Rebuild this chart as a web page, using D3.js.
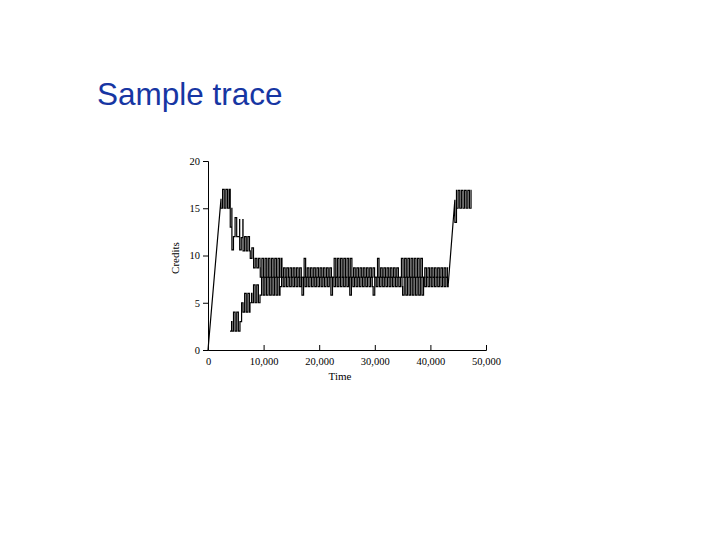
<!DOCTYPE html>
<html>
<head>
<meta charset="utf-8">
<script src="https://cdn.jsdelivr.net/npm/d3@7"></script>
<style>
  body { margin: 0; background: #fff; }
  svg { display: block; }
</style>
</head>
<body>
<div id="chart"></div>
<script>
// Axis ticks;
var xTicks = [0, 10000, 20000, 30000, 40000, 50000]
var yTicks = [0, 5, 10, 15, 20]

// Time between two flips of the credit counter, in time units;
var toggleStep = 290

// Straight pieces of the traces: [time, credits];
var rampA = [[0, 0], [2340, 16]]
var rampB = [[43200, 6.9], [44400, 15.9]]

// Oscillating pieces: [start time, end time, low credits, high credits];
var runsA = [
    [2340, 4000, 15, 17],
    [4000, 4300, 13, 15],
    [4300, 4580, 10.6, 15],
    [4580, 5400, 12, 14],
    [5400, 5700, 12, 13.8],
    [5700, 5980, 10.6, 13.8],
    [5980, 6300, 11.9, 13.8],
    [6300, 7600, 10.5, 12],
    [7600, 8200, 9.7, 10.8],
    [8200, 9400, 8.7, 9.7],
    [9400, 13300, 7.7, 9.7],
    [13300, 17000, 7.7, 8.7],
    [17000, 17560, 7.7, 9.7],
    [17560, 22400, 7.7, 8.7],
    [22400, 25900, 7.7, 9.7],
    [25900, 30200, 7.7, 8.7],
    [30200, 30760, 7.7, 9.7],
    [30760, 34500, 7.7, 8.7],
    [34500, 38700, 7.7, 9.7],
    [38700, 43200, 7.7, 8.7]
]

var runsB1 = [
    [3960, 4300, 2, 3],
    [4300, 5750, 2, 4],
    [5750, 6300, 3, 5],
    [6300, 7550, 4, 6],
    [7550, 7900, 5, 6],
    [7900, 9350, 5, 6.9],
    [9350, 12950, 5.8, 7.7],
    [12950, 16900, 6.7, 7.7],
    [16900, 17460, 5.8, 7.7],
    [17460, 22100, 6.7, 7.7],
    [22100, 22660, 5.8, 7.7],
    [22660, 25500, 6.7, 7.7],
    [25500, 26060, 5.8, 7.7],
    [26060, 29700, 6.7, 7.7],
    [29700, 30260, 5.8, 7.7],
    [30260, 35000, 6.7, 7.7],
    [35000, 39000, 5.8, 7.7],
    [39000, 43200, 6.7, 7.7]
]

var runsB2 = [
    [44400, 44700, 13.5, 16.9],
    [44700, 47400, 15, 16.9]
]

var traceA = [{ ramp: rampA }, { runs: runsA }]
var traceB = [{ runs: runsB1 }, { ramp: rampB }, { runs: runsB2 }]

/////////////////////////////

var width = 720
var height = 540

var svg = d3.select("#chart").append("svg")
    .attr("width", width)
    .attr("height", height)

svg.append("text")
    .attr("x", 97)
    .attr("y", 105)
    .attr("font-family", "Liberation Sans, Arial, sans-serif")
    .attr("font-size", 31.5)
    .attr("fill", "#1736a3")
    .text("Sample trace")

var x = d3.scaleLinear().domain([0, 50000]).range([208, 486])
var y = d3.scaleLinear().domain([0, 20]).range([350, 161])

// Turn the pieces of a trace into a list of points (square wave for the runs);
function tracePoints(parts) {
    var pts = []
    parts.forEach(p => {
        if (p.ramp) p.ramp.forEach(d => pts.push(d))
        else p.runs.forEach(([t0, t1, lo, hi]) => {
            var i = 0
            for (var t = t0; t < t1; t += toggleStep, i++) {
                var v = i % 2 ? hi : lo
                pts.push([t, v], [Math.min(t + toggleStep, t1), v])
            }
        })
    })
    return pts
}

var line = d3.line().x(d => x(d[0])).y(d => y(d[1]))

var plot = svg.append("g")
plot.selectAll("path.trace")
    .data([traceA, traceB])
    .join("path")
    .attr("class", "trace")
    .attr("fill", "none")
    .attr("stroke", "#000")
    .attr("stroke-width", 1.2)
    .attr("d", d => line(tracePoints(d)))

var serif = "Liberation Serif, Times New Roman, serif"

var xAxis = svg.append("g")
    .attr("transform", `translate(0,${y(0)})`)
    .call(d3.axisBottom(x).tickValues(xTicks).tickFormat(d3.format(",")).tickSize(-5).tickPadding(8))
var yAxis = svg.append("g")
    .attr("transform", `translate(${x(0)},0)`)
    .call(d3.axisLeft(y).tickValues(yTicks).tickSize(5).tickPadding(3))

;[xAxis, yAxis].forEach(a => {
    a.attr("font-family", serif).attr("font-size", 10.5)
    a.selectAll("path, line").attr("stroke", "#000")
    a.selectAll("text").attr("fill", "#000")
})

svg.append("text")
    .attr("x", 340)
    .attr("y", 380)
    .attr("text-anchor", "middle")
    .attr("font-family", serif)
    .attr("font-size", 11)
    .text("Time")

svg.append("text")
    .attr("transform", "translate(179,258) rotate(-90)")
    .attr("text-anchor", "middle")
    .attr("font-family", serif)
    .attr("font-size", 11)
    .text("Credits")
</script>
</body>
</html>
